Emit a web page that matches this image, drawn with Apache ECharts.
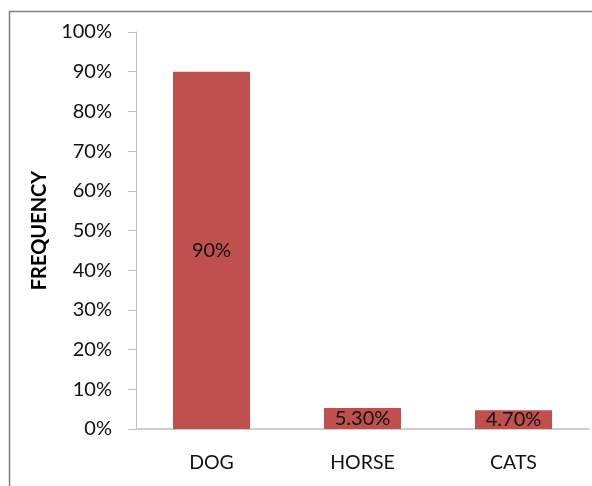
<!DOCTYPE html>
<html>
<head>
<meta charset="utf-8">
<script src="https://cdn.jsdelivr.net/npm/echarts@6/dist/echarts.min.js"></script>
<style>html,body{margin:0;padding:0;background:#fff;}#c{width:592px;height:486px;}</style>
</head>
<body>
<div id="c"></div>
<script>
const categories = ['DOG', 'HORSE', 'CATS'];
const values = [90, 5.3, 4.7];
const valueLabels = ['90%', '5.30%', '4.70%'];
const yTicks = [0, 10, 20, 30, 40, 50, 60, 70, 80, 90, 100];

const FONT = 'Lato';
const chart = echarts.init(document.getElementById('c'));
chart.setOption({
  animation: false,
  textStyle: { fontFamily: FONT },
  graphic: [{
    type: 'polyline',
    shape: { points: [[9.5, 486], [9.5, 11.5], [592, 11.5]] },
    style: { stroke: '#7f7f7f', lineWidth: 1.5, fill: null }
  }],
  grid: { left: 136, right: 3, top: 32, bottom: 57 },
  xAxis: {
    type: 'category',
    data: categories,
    axisLine: { show: true, lineStyle: { color: '#bfbfbf', width: 1.5 } },
    axisTick: { show: false },
    axisLabel: { color: '#111', fontSize: 19.5, margin: 24, fontFamily: FONT }
  },
  yAxis: {
    type: 'value',
    min: yTicks[0],
    max: yTicks[yTicks.length - 1],
    interval: 10,
    name: 'FREQUENCY',
    nameLocation: 'middle',
    nameRotate: 90,
    nameGap: 86,
    nameTextStyle: { fontSize: 20, fontWeight: 'bold', color: '#000', fontFamily: FONT },
    axisLine: { show: true, lineStyle: { color: '#bfbfbf', width: 1 } },
    axisTick: { show: true, inside: false, length: 8, lineStyle: { color: '#bfbfbf' } },
    splitLine: { show: false },
    axisLabel: { color: '#111', fontSize: 20, margin: 24, fontFamily: FONT, formatter: v => v + '%' }
  },
  series: [{
    type: 'bar',
    data: values,
    barWidth: 77,
    itemStyle: { color: '#c0504d' },
    label: {
      show: true,
      position: 'inside',
      color: '#111',
      fontSize: 20,
      fontFamily: FONT,
      formatter: p => valueLabels[p.dataIndex]
    }
  }]
});
</script>
</body>
</html>
